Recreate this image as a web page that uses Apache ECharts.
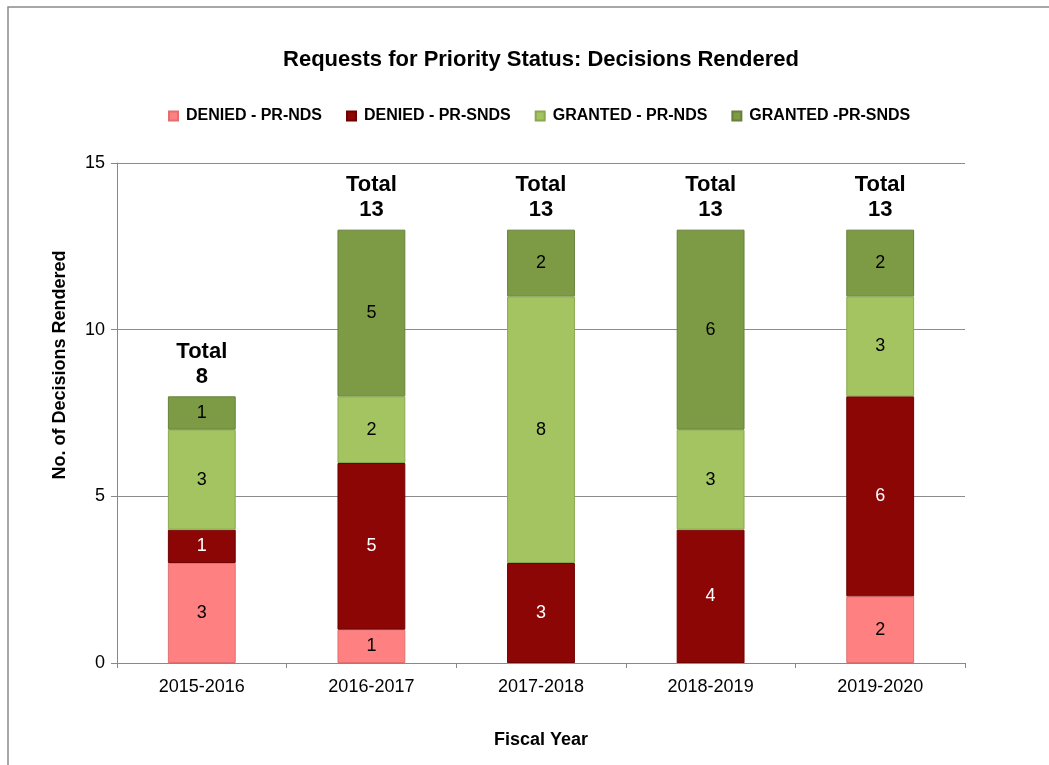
<!DOCTYPE html>
<html>
<head>
<meta charset="utf-8">
<script src="https://cdn.jsdelivr.net/npm/echarts@6/dist/echarts.min.js"></script>
<style>html,body{margin:0;padding:0;background:#fff}#c{width:1049px;height:765px}</style>
</head>
<body>
<div id="c"></div>
<script>
const categories = ['2015-2016','2016-2017','2017-2018','2018-2019','2019-2020'];
const deniedNDS = [3, 1, 0, 0, 2];
const deniedSNDS = [1, 5, 3, 4, 6];
const grantedNDS = [3, 2, 8, 3, 3];
const grantedSNDS = [1, 5, 2, 6, 2];
const yTicks = [0, 5, 10, 15];

const totals = categories.map((c, i) => deniedNDS[i] + deniedSNDS[i] + grantedNDS[i] + grantedSNDS[i]);
const FONT = 'Liberation Sans, Arial, sans-serif';

function barSeries(name, data, color, labelColor, border) {
  return {
    name: name, type: 'bar', stack: 'a', data: data, barWidth: '40%',
    itemStyle: { color: color, borderColor: border, borderWidth: 1 },
    label: {
      show: true, position: 'inside', color: labelColor, fontSize: 18, fontFamily: FONT,
      formatter: p => p.value > 0 ? p.value : ''
    },
    emphasis: { disabled: true }
  };
}

const chart = echarts.init(document.getElementById('c'));
chart.setOption({
  animation: false,
  backgroundColor: '#fff',
  graphic: [{
    type: 'rect', shape: { x: 8, y: 7, width: 1100, height: 1000 },
    style: { fill: 'none', stroke: '#8a8a8a', lineWidth: 1.5 }, silent: true, z: -1
  }],
  title: {
    text: 'Requests for Priority Status: Decisions Rendered',
    left: 536, top: 44, textAlign: 'center',
    textStyle: { fontFamily: FONT, fontSize: 22, fontWeight: 'bold', color: '#000' }
  },
  legend: {
    top: 103, left: 163, itemWidth: 9, itemHeight: 9, itemGap: 24,
    icon: 'rect',
    textStyle: { fontFamily: FONT, fontSize: 16, fontWeight: 'bold', color: '#000', padding: [0, 0, 0, 3] },
    data: ['DENIED - PR-NDS', 'DENIED - PR-SNDS', 'GRANTED - PR-NDS', 'GRANTED -PR-SNDS']
  },
  grid: { left: 117, right: 84, top: 163, bottom: 102 },
  xAxis: {
    type: 'category', data: categories,
    name: 'Fiscal Year', nameLocation: 'middle', nameGap: 68,
    nameTextStyle: { fontFamily: FONT, fontSize: 18, fontWeight: 'bold', color: '#000' },
    axisLine: { lineStyle: { color: '#888' } },
    axisTick: { show: true, length: 5, lineStyle: { color: '#888' } },
    axisLabel: { fontFamily: FONT, fontSize: 18, color: '#000', margin: 15 }
  },
  yAxis: {
    type: 'value', min: yTicks[0], max: yTicks[yTicks.length - 1], interval: 5,
    name: 'No. of Decisions Rendered', nameLocation: 'middle', nameGap: 48,
    nameTextStyle: { fontFamily: FONT, fontSize: 18, fontWeight: 'bold', color: '#000', padding: [0, 0, 0, 96] },
    axisLine: { show: true, lineStyle: { color: '#888' } },
    axisTick: { show: true, length: 6, lineStyle: { color: '#888' } },
    splitLine: { lineStyle: { color: '#8c8c8c' } },
    axisLabel: { fontFamily: FONT, fontSize: 18, color: '#000', margin: 12 }
  },
  series: [
    barSeries('DENIED - PR-NDS', deniedNDS, '#FF8080', '#000', '#e07070'),
    barSeries('DENIED - PR-SNDS', deniedSNDS, '#8C0606', '#fff', '#6e0000'),
    barSeries('GRANTED - PR-NDS', grantedNDS, '#A3C460', '#000', '#8aa94f'),
    barSeries('GRANTED -PR-SNDS', grantedSNDS, '#7D9B45', '#000', '#66803a'),
    {
      name: 'Total', type: 'bar', stack: 'a', data: totals.map(() => 0), barWidth: '40%',
      itemStyle: { color: 'transparent' },
      label: {
        show: true, position: 'top', distance: 7,
        formatter: p => 'Total\n' + totals[p.dataIndex],
        fontFamily: FONT, fontSize: 22, fontWeight: 'bold', color: '#000', lineHeight: 25
      },
      emphasis: { disabled: true }
    }
  ]
});
</script>
</body>
</html>
